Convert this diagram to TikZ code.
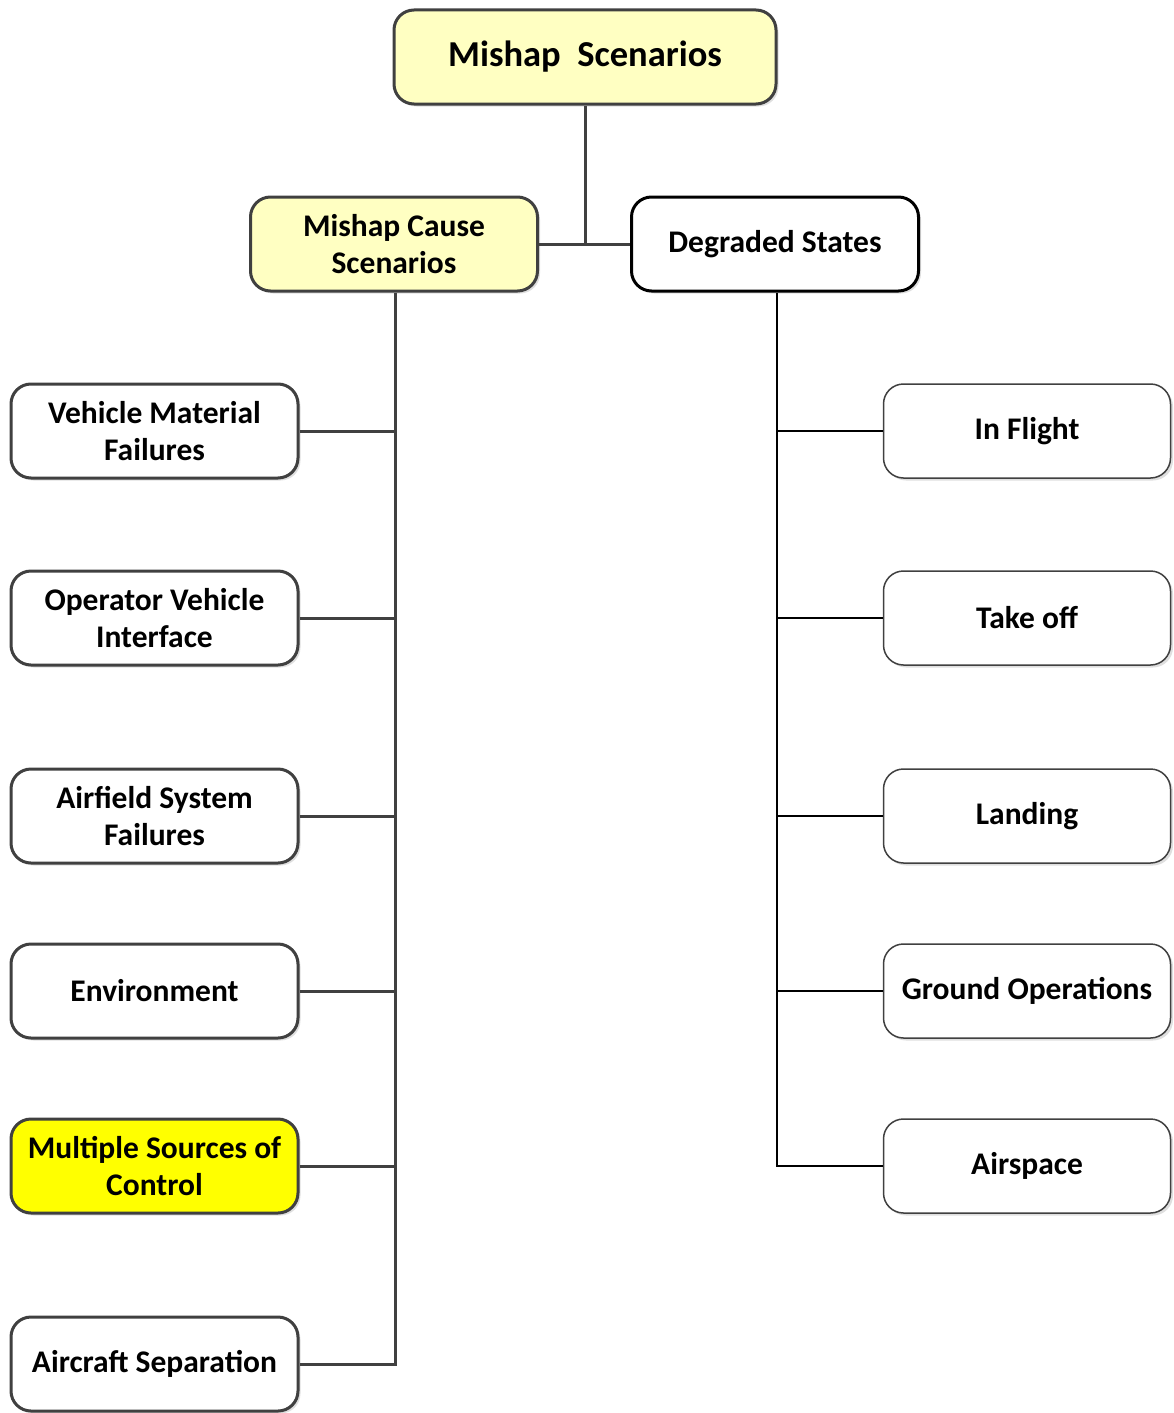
\documentclass[tikz,border=0pt]{standalone}
\usepackage{fontspec}
\setmainfont{Carlito}
\usetikzlibrary{shadows}
\definecolor{pale}{HTML}{FFFFC2}
\definecolor{bright}{HTML}{FFFF00}
\definecolor{edge}{HTML}{404040}
\tikzset{
  box/.style={draw=edge, line width=3pt, rounded corners=20pt, fill=white,
    minimum width=287pt, minimum height=94pt, inner sep=0pt, align=center,
    font=\bfseries\fontsize{31.5}{37}\selectfont,
    drop shadow={opacity=0.25, shadow xshift=2.5pt, shadow yshift=-2.5pt}},
  thinbox/.style={box, line width=1.5pt},
  link/.style={draw=edge, line width=3pt},
  thinlink/.style={draw=black, line width=1.4pt},
}
\begin{document}
\begin{tikzpicture}[x=1pt,y=-1pt]
\useasboundingbox (0,0) rectangle (1173,1413);

% root and second level
\node[box, fill=pale, minimum width=382pt, font=\bfseries\fontsize{36.5}{42}\selectfont] (root) at (585,57) {Mishap\ \ Scenarios};
\node[box, fill=pale] (cause) at (394,244) {Mishap Cause\\Scenarios};
\node[box, draw=black] (degr) at (775,244) {Degraded States};

% cause scenarios
\node[box] (c1) at (154.5,431) {Vehicle Material\\Failures};
\node[box] (c2) at (154.5,618) {Operator Vehicle\\Interface};
\node[box] (c3) at (154.5,816) {Airfield System\\Failures};
\node[box] (c4) at (154.5,991) {Environment};
\node[box, fill=bright] (c5) at (154.5,1166) {Multiple Sources of\\Control};
\node[box] (c6) at (154.5,1364) {Aircraft Separation};

% degraded states
\node[thinbox] (d1) at (1027,431) {In Flight};
\node[thinbox] (d2) at (1027,618) {Take off};
\node[thinbox] (d3) at (1027,816) {Landing};
\node[thinbox] (d4) at (1027,991) {Ground Operations};
\node[thinbox] (d5) at (1027,1166) {Airspace};

% root to second level
\coordinate (j) at (root.south |- cause.east);
\draw[link] (root.south) -- (j);
\draw[link] (cause.east) -- (degr.west);

% left trunk
\coordinate (lt) at (395,0);
\draw[link] (cause.south -| lt) -- (c6.east -| lt) -- (c6.east);
\foreach \n in {c1,c2,c3,c4,c5}
  \draw[link] (\n.east) -- (\n.east -| lt);

% right trunk
\coordinate (rt) at (777,0);
\draw[thinlink] (degr.south -| rt) -- (d5.west -| rt) -- (d5.west);
\foreach \n in {d1,d2,d3,d4}
  \draw[thinlink] (\n.west -| rt) -- (\n.west);
\end{tikzpicture}
\end{document}
